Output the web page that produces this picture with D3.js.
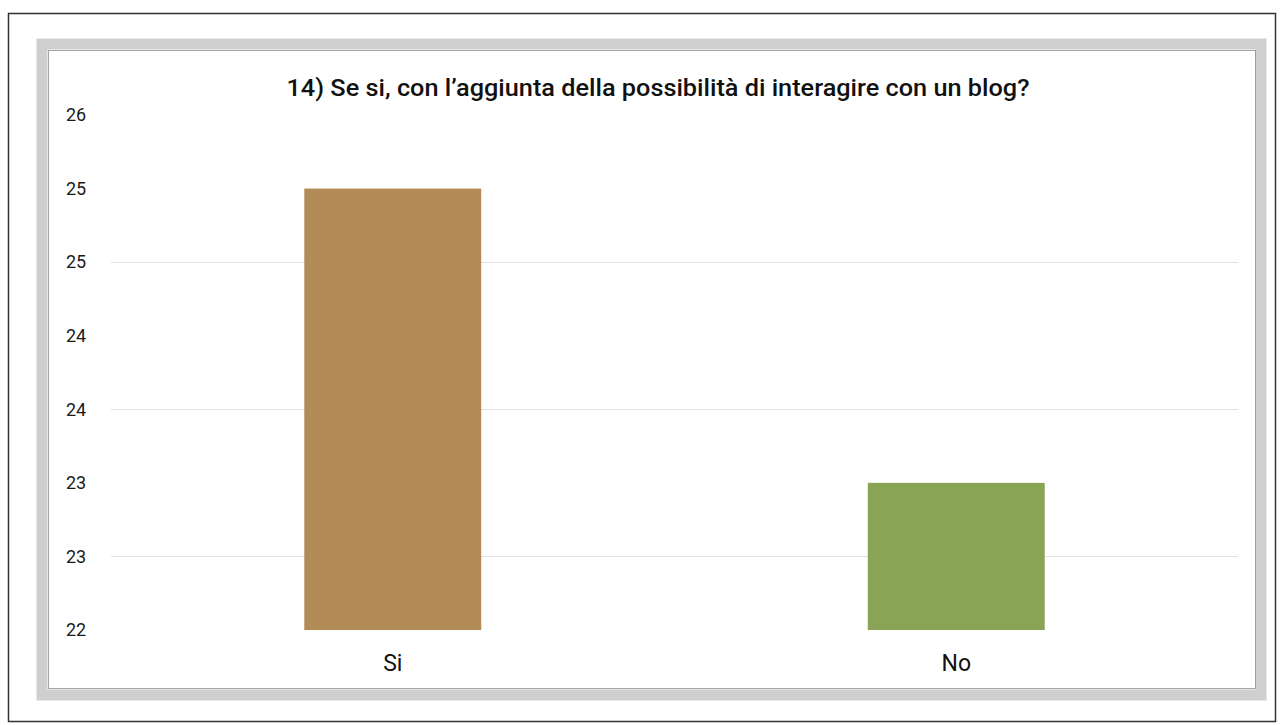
<!DOCTYPE html>
<html><head><meta charset="utf-8">
<script src="https://cdn.jsdelivr.net/npm/d3@7/dist/d3.min.js"></script>
<style>body{margin:0;background:#fff;}svg{display:block;}</style>
</head><body>
<svg id="c" width="1281" height="725"></svg>
<script>
const categories = ["Si", "No"];
const values = [25, 23];
const colors = ["#b38b56", "#8aa456"];
const yTicks = [22, 22.5, 23, 23.5, 24, 24.5, 25, 25.5];
const title = "14) Se si, con l\u2019aggiunta della possibilit\u00e0 di interagire con un blog?";

const svg = d3.select("#c");
// outer page frame
svg.append("rect").attr("x", 8.5).attr("y", 13.5).attr("width", 1267).attr("height", 708)
  .attr("fill", "#fff").attr("stroke", "#333").attr("stroke-width", 1.5);
// gray chart frame
svg.append("rect").attr("x", 42).attr("y", 44).attr("width", 1219).attr("height", 651)
  .attr("fill", "#fff").attr("stroke", "#cfcfcf").attr("stroke-width", 11);
svg.append("rect").attr("x", 48.5).attr("y", 50.5).attr("width", 1207).attr("height", 638)
  .attr("fill", "none").attr("stroke", "#6a6a6a").attr("stroke-width", 1).attr("stroke-opacity", 0.6);

const m = {left: 111, right: 1238, top: 115, bottom: 630};
const x = d3.scaleBand().domain(categories).range([m.left, m.right]).paddingInner(0.686).paddingOuter(0.343);
const y = d3.scaleLinear().domain([22, 25.5]).range([m.bottom, m.top]);
const font = "Roboto, Liberation Sans, Arial, sans-serif";

// gridlines
svg.append("g").selectAll("line").data(yTicks.filter(t => t % 1 !== 0 && t < 25.5)).join("line")
  .attr("x1", m.left).attr("x2", m.right)
  .attr("y1", d => Math.round(y(d)) + 0.5).attr("y2", d => Math.round(y(d)) + 0.5)
  .attr("stroke", "#e2e2e2").attr("stroke-width", 1);

// y axis labels
const yAxis = d3.axisLeft(y).tickValues(yTicks).tickSize(0).tickFormat(d => d3.format(".0f")(Math.round(d + 0.001)));
const gy = svg.append("g").attr("transform", "translate(66,0)").call(yAxis);
gy.select(".domain").remove();
gy.selectAll("text").attr("text-anchor", "start").attr("x", 0)
  .attr("font-family", font).attr("font-weight", 400).attr("font-size", 18).attr("fill", "#1a1a1a");

// bars
svg.append("g").selectAll("rect").data(categories).join("rect")
  .attr("x", d => x(d)).attr("width", x.bandwidth())
  .attr("y", (d, i) => y(values[i])).attr("height", (d, i) => y(22) - y(values[i]))
  .attr("fill", (d, i) => colors[i]);

// x labels
const xAxis = d3.axisBottom(x).tickSize(0);
const gx = svg.append("g").attr("transform", `translate(0,${m.bottom})`).call(xAxis);
gx.select(".domain").remove();
gx.selectAll("text").attr("dy", 0).attr("y", 41)
  .attr("font-family", font).attr("font-weight", 400).attr("font-size", 23).attr("fill", "#111");

// title
svg.append("text").attr("x", 658).attr("y", 96).attr("text-anchor", "middle")
  .attr("font-family", font).attr("font-weight", 500)
  .attr("font-size", 23).attr("fill", "#111")
  .attr("textLength", 743).attr("lengthAdjust", "spacingAndGlyphs").text(title);
</script>
</body></html>
